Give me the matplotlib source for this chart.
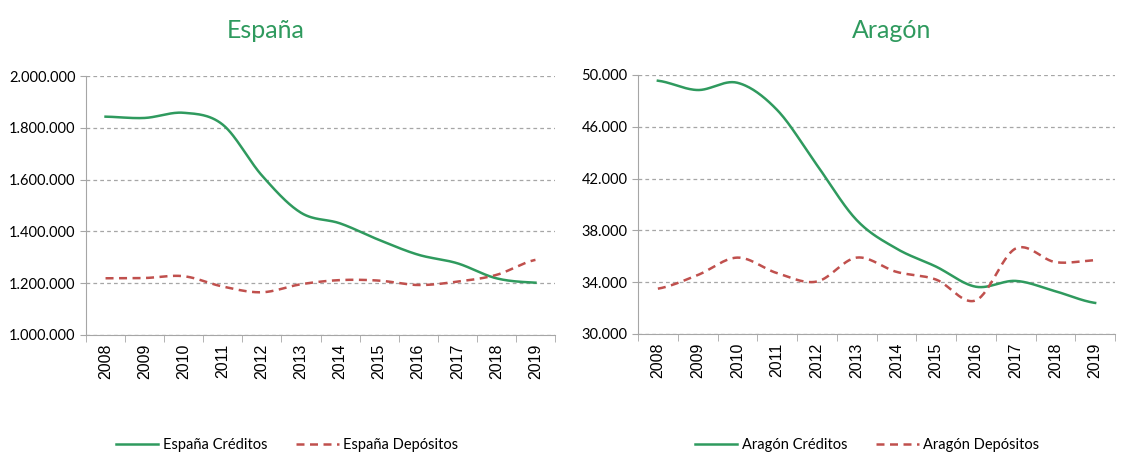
import numpy as np
import matplotlib.pyplot as plt
from matplotlib.ticker import FuncFormatter

# datos
anios = ['2008', '2009', '2010', '2011', '2012', '2013', '2014', '2015', '2016', '2017', '2018', '2019']
espana_creditos = [1843000, 1838000, 1858000, 1812000, 1616000, 1472000, 1431000, 1367000, 1310000, 1277000, 1219000, 1202000]
espana_depositos = [1219000, 1220000, 1227000, 1187000, 1165000, 1196000, 1212000, 1210000, 1193000, 1206000, 1232000, 1290000]
aragon_creditos = [49560, 48840, 49400, 47300, 43050, 38800, 36600, 35200, 33650, 34100, 33300, 32400]
aragon_depositos = [33500, 34550, 35900, 34700, 34050, 35900, 34800, 34200, 32600, 36600, 35550, 35700]

verde = '#2f9a5e'
rojo = '#c0504d'
gris = '#a6a6a6'


def suavizar(y, n=30):
    # curva suavizada tipo Excel (Catmull-Rom)
    y = np.asarray(y, dtype=float)
    p = np.concatenate([[y[0]], y, [y[-1]]])
    xs, ys = [], []
    for i in range(len(y) - 1):
        p0, p1, p2, p3 = p[i], p[i + 1], p[i + 2], p[i + 3]
        t = np.linspace(0, 1, n, endpoint=False)
        c1 = p1 + (p2 - p0) / 6
        c2 = p2 - (p3 - p1) / 6
        yy = (1 - t)**3 * p1 + 3 * (1 - t)**2 * t * c1 + 3 * (1 - t) * t**2 * c2 + t**3 * p2
        xs.append(i + t)
        ys.append(yy)
    xs.append([len(y) - 1])
    ys.append([y[-1]])
    return np.concatenate(xs), np.concatenate(ys)


def miles(v, pos):
    return f'{v:,.0f}'.replace(',', '.')


fig = plt.figure(figsize=(11.22, 4.55), dpi=100)

paneles = [
    ('España', espana_creditos, espana_depositos, (1000000, 2000000), 200000,
     [86 / 1122, 1 - 335 / 455, 469 / 1122, 259 / 455], 266 / 1122, 287 / 1122),
    ('Aragón', aragon_creditos, aragon_depositos, (30000, 50000), 4000,
     [638 / 1122, 1 - 334 / 455, 477 / 1122, 259 / 455], 892 / 1122, 867 / 1122),
]

for nombre, cred, dep, ylim, paso, pos, xt, xl in paneles:
    ax = fig.add_axes(pos)
    x1, y1 = suavizar(cred)
    x2, y2 = suavizar(dep)
    ax.plot(x1, y1, color=verde, lw=1.8, label=f'{nombre} Créditos')
    ax.plot(x2, y2, color=rojo, lw=1.8, dashes=(3.2, 2.2), label=f'{nombre} Depósitos')

    ax.set_xlim(-0.5, len(anios) - 0.5)
    ax.set_ylim(*ylim)
    ax.set_yticks(np.arange(ylim[0], ylim[1] + 1, paso))
    ax.yaxis.set_major_formatter(FuncFormatter(miles))
    ax.set_xticks(range(len(anios)))
    ax.set_xticklabels(anios, rotation=90, fontfamily='Liberation Sans', fontsize=11.5)
    ax.set_xticks(np.arange(-0.5, len(anios), 1), minor=True)
    ax.tick_params(axis='x', which='major', length=0, pad=6)
    ax.tick_params(axis='x', which='minor', length=5, color=gris, direction='out')
    ax.tick_params(axis='y', length=4, color=gris, labelsize=10.5)
    for lab in ax.get_yticklabels():
        lab.set_fontfamily('Lato')

    ax.grid(axis='y', color=gris, linestyle=(0, (3, 2.5)), lw=0.9)
    ax.set_axisbelow(True)
    for s in ['top', 'right']:
        ax.spines[s].set_visible(False)
    ax.spines['left'].set_color(gris)
    ax.spines['bottom'].set_color(gris)

    fig.text(xt, 1 - 30 / 455, nombre, color=verde, fontsize=18, fontfamily='Lato',
             ha='center', va='center')
    ax.legend(loc='center', bbox_to_anchor=(xl, 1 - 445 / 455),
              bbox_transform=fig.transFigure, ncol=2, frameon=False,
              prop={'family': 'Lato', 'size': 10.5}, handlelength=2.9,
              handletextpad=0.3, columnspacing=2.0)

plt.savefig('out.png', dpi=100)
